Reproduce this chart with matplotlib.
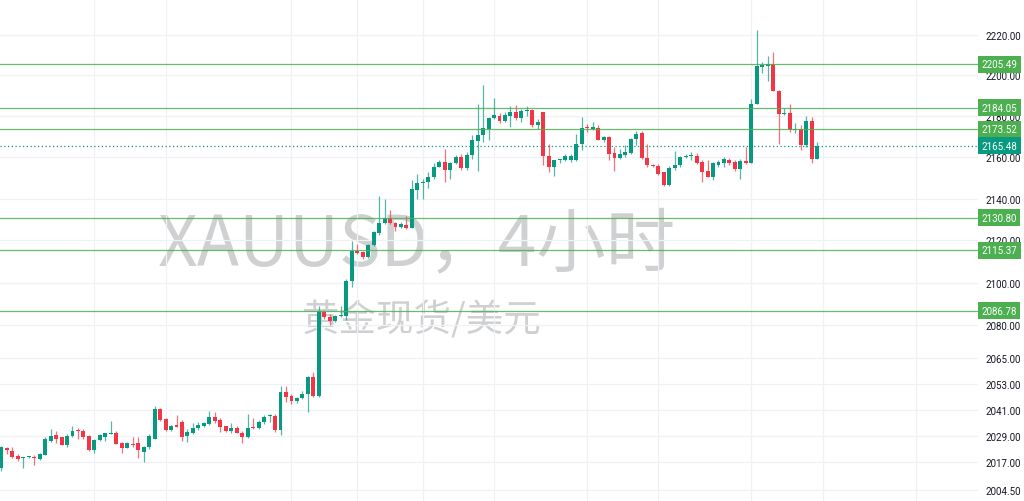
import numpy as np
import matplotlib
matplotlib.use("Agg")
import matplotlib.pyplot as plt
from matplotlib.ticker import FixedLocator, FixedFormatter, NullLocator

# 4h XAUUSD candles (oldest first)
opens = [2014.3, 2023.5, 2022.1, 2020.0, 2019.0, 2019.3, 2019.5, 2018.5, 2020.3, 2026.7,
         2029.3, 2028.3, 2025.0, 2028.9, 2031.6, 2031.3, 2029.0, 2022.6, 2027.0, 2028.3,
         2029.8, 2030.5, 2026.0, 2023.5, 2025.3, 2025.8, 2021.8, 2023.9, 2027.8, 2041.4,
         2036.8, 2031.7, 2033.8, 2035.4, 2028.8, 2030.2, 2032.4, 2033.5, 2034.5, 2037.5,
         2036.2, 2033.5, 2031.3, 2032.4, 2030.5, 2028.3, 2033.1, 2032.4, 2035.2, 2038.0,
         2038.0, 2031.5, 2049.0, 2047.4, 2044.8, 2046.2, 2048.0, 2055.8, 2047.4, 2086.4,
         2083.9, 2082.0, 2084.3, 2084.3, 2101.0, 2115.2, 2114.5, 2112.2, 2117.7, 2123.5,
         2128.3, 2130.7, 2128.3, 2126.3, 2127.3, 2125.7, 2144.2, 2147.4, 2147.9, 2150.5,
         2155.4, 2157.5, 2153.9, 2157.0, 2160.1, 2154.8, 2161.0, 2167.9, 2170.5, 2173.7,
         2178.9, 2180.2, 2177.6, 2180.2, 2181.8, 2178.9, 2182.3, 2183.0, 2175.7, 2181.8,
         2160.5, 2155.2, 2158.4, 2158.4, 2158.4, 2158.4, 2166.2, 2174.6, 2173.9, 2174.3,
         2168.1, 2169.6, 2162.0, 2159.6, 2161.0, 2162.2, 2168.9, 2171.7, 2159.6, 2156.4,
         2155.8, 2152.6, 2146.5, 2154.5, 2156.4, 2160.1, 2160.4, 2160.4, 2157.5, 2153.4,
         2150.6, 2156.4, 2157.0, 2158.6, 2157.5, 2154.2, 2158.0, 2157.3, 2186.1, 2204.1,
         2204.4, 2205.5, 2192.5, 2181.2, 2181.6, 2173.0, 2173.7, 2166.0, 2177.8, 2159.0]
highs = [2024.5, 2024.0, 2024.2, 2020.7, 2019.6, 2020.0, 2020.5, 2021.3, 2028.3, 2032.0,
         2031.3, 2028.3, 2029.8, 2033.5, 2032.5, 2032.3, 2029.3, 2027.5, 2029.8, 2030.5,
         2035.7, 2031.3, 2026.3, 2026.3, 2028.3, 2028.3, 2024.5, 2029.8, 2042.6, 2041.8,
         2037.2, 2033.9, 2038.5, 2036.2, 2032.3, 2035.0, 2035.4, 2035.4, 2040.2, 2040.0,
         2037.0, 2033.5, 2034.8, 2033.6, 2031.1, 2039.0, 2037.3, 2036.2, 2038.5, 2039.0,
         2039.0, 2051.7, 2051.7, 2048.3, 2046.7, 2049.4, 2056.3, 2058.5, 2088.8, 2087.1,
         2085.4, 2084.8, 2088.8, 2101.8, 2119.9, 2118.3, 2115.2, 2118.2, 2124.5, 2141.3,
         2139.6, 2134.6, 2128.6, 2128.6, 2131.5, 2149.0, 2151.8, 2149.5, 2153.0, 2157.0,
         2158.6, 2164.1, 2157.8, 2160.9, 2161.7, 2162.5, 2170.8, 2185.8, 2195.3, 2179.4,
         2188.7, 2181.7, 2181.9, 2185.0, 2185.3, 2183.5, 2184.7, 2183.5, 2178.5, 2182.2,
         2166.5, 2158.8, 2159.3, 2161.6, 2161.6, 2171.3, 2179.4, 2175.9, 2176.9, 2175.6,
         2170.2, 2170.2, 2165.0, 2163.7, 2165.8, 2169.3, 2172.7, 2172.7, 2166.5, 2156.6,
         2156.6, 2153.0, 2155.8, 2163.2, 2160.6, 2161.6, 2162.5, 2162.2, 2158.6, 2158.6,
         2157.8, 2158.6, 2160.2, 2159.6, 2158.8, 2159.3, 2165.0, 2188.2, 2222.6, 2206.4,
         2209.7, 2211.4, 2192.6, 2183.9, 2185.8, 2176.7, 2175.7, 2180.2, 2179.4, 2167.2]
lows = [2013.2, 2021.0, 2019.2, 2017.7, 2014.6, 2019.0, 2016.0, 2018.0, 2020.3, 2026.3,
        2026.0, 2024.8, 2024.2, 2028.3, 2027.5, 2027.8, 2022.2, 2021.4, 2026.8, 2026.8,
        2029.8, 2025.3, 2021.1, 2023.5, 2023.9, 2019.2, 2017.3, 2023.0, 2027.5, 2035.8,
        2031.4, 2031.3, 2033.2, 2026.7, 2026.4, 2029.7, 2031.6, 2033.2, 2034.2, 2034.7,
        2031.0, 2030.9, 2030.4, 2030.3, 2026.0, 2028.0, 2032.3, 2032.2, 2034.5, 2035.4,
        2031.0, 2029.5, 2044.5, 2043.7, 2044.0, 2045.7, 2040.0, 2047.0, 2047.0, 2083.1,
        2080.0, 2081.5, 2084.0, 2082.4, 2098.1, 2113.6, 2111.0, 2111.5, 2117.2, 2122.8,
        2128.0, 2128.0, 2124.5, 2125.8, 2125.2, 2125.7, 2139.6, 2139.6, 2144.9, 2149.4,
        2155.0, 2148.0, 2149.4, 2156.5, 2154.0, 2154.0, 2159.3, 2153.1, 2167.4, 2168.1,
        2178.5, 2176.8, 2176.9, 2174.8, 2178.1, 2176.9, 2180.2, 2174.4, 2173.6, 2156.1,
        2152.6, 2151.0, 2157.0, 2158.0, 2157.8, 2158.0, 2163.3, 2172.1, 2173.4, 2168.1,
        2167.4, 2158.5, 2153.3, 2159.3, 2160.1, 2161.4, 2165.8, 2159.0, 2155.4, 2155.4,
        2151.3, 2146.2, 2146.2, 2154.0, 2155.4, 2159.6, 2158.6, 2156.6, 2147.8, 2150.6,
        2148.9, 2155.4, 2155.4, 2156.2, 2153.4, 2149.4, 2156.6, 2157.0, 2186.0, 2201.2,
        2197.0, 2192.1, 2166.5, 2180.3, 2172.3, 2171.9, 2163.5, 2165.0, 2157.0, 2159.0]
closes = [2023.9, 2022.6, 2019.6, 2018.5, 2019.5, 2019.7, 2019.0, 2020.7, 2027.5, 2029.0,
          2027.8, 2025.0, 2029.0, 2031.3, 2031.2, 2028.3, 2022.6, 2027.2, 2029.3, 2030.2,
          2030.5, 2025.5, 2023.5, 2025.6, 2024.8, 2022.6, 2024.2, 2028.8, 2041.4, 2036.5,
          2031.7, 2033.5, 2033.2, 2028.6, 2030.9, 2032.4, 2034.2, 2035.0, 2037.5, 2035.7,
          2033.2, 2031.3, 2032.4, 2030.3, 2028.3, 2032.8, 2032.7, 2035.5, 2037.5, 2038.3,
          2031.5, 2049.0, 2046.8, 2044.8, 2046.3, 2048.0, 2055.8, 2047.4, 2086.6, 2083.7,
          2082.0, 2084.3, 2084.6, 2101.0, 2115.2, 2114.1, 2112.2, 2117.7, 2124.0, 2128.4,
          2130.7, 2128.3, 2126.3, 2127.6, 2125.7, 2144.6, 2147.4, 2148.2, 2150.6, 2155.4,
          2157.5, 2153.9, 2157.0, 2160.1, 2154.8, 2161.2, 2168.1, 2170.5, 2174.3, 2178.9,
          2180.5, 2177.6, 2180.5, 2181.8, 2178.9, 2182.5, 2183.0, 2175.7, 2177.3, 2160.5,
          2155.2, 2158.4, 2159.0, 2160.3, 2160.3, 2166.2, 2174.3, 2174.0, 2174.8, 2168.1,
          2169.6, 2161.7, 2159.6, 2161.7, 2162.7, 2168.9, 2171.3, 2159.6, 2156.4, 2155.8,
          2151.6, 2146.5, 2154.8, 2156.4, 2160.1, 2160.7, 2160.9, 2157.1, 2152.6, 2150.6,
          2157.0, 2157.8, 2158.9, 2157.0, 2154.2, 2158.0, 2157.3, 2186.0, 2204.4, 2204.9,
          2205.5, 2192.5, 2180.9, 2181.6, 2173.0, 2173.7, 2166.0, 2177.8, 2159.0, 2165.48]

levels = [2205.49, 2184.05, 2173.52, 2130.80, 2115.37, 2086.78]
last_price = 2165.48
price_ticks = [2004.50, 2017.00, 2029.00, 2041.00, 2053.00, 2065.00, 2080.00,
               2100.00, 2120.00, 2140.00, 2160.00, 2180.00, 2200.00, 2220.00]
time_grid = [17, 30, 53, 65, 77, 90, 107, 120, 137, 150, 167]

symbol_text = "XAUUSD，4小时"
name_text = "黄金现货/美元"

UP = "#089981"
DOWN = "#f23645"
LEVEL_GREEN = "#4caf50"
TICK_FONT = ["Roboto", "DejaVu Sans"]
TICK_SIZE = 7

o = np.array(opens)
h = np.array(highs)
l = np.array(lows)
c = np.array(closes)
x = np.arange(len(o))
up = c >= o
colors = np.where(up, UP, DOWN)

fig = plt.figure(figsize=(10.24, 5.02), dpi=100)
ax = fig.add_axes([0, 0, 978 / 1024, 1])
ax.set_yscale("log")
ax.set_ylim(1999.6, 2238)
ax.set_xlim(-0.24, 178.4)

# watermark
ax.text(0.4264, 0.51, symbol_text, transform=ax.transAxes, ha="center", va="center",
        fontsize=50, color="#cfd0d2", family=["Noto Sans CJK SC"], zorder=0)
ax.text(0.4315, 0.36, name_text, transform=ax.transAxes, ha="center", va="center",
        fontsize=27, color="#cfd0d2", family=["Noto Sans CJK SC"], zorder=0)

# candles
ax.vlines(x, l, h, colors=colors, linewidth=0.9, alpha=0.7, zorder=2)
body_lo = np.minimum(o, c)
body_h = np.maximum(np.abs(c - o), 0.5)
ax.bar(x, body_h, bottom=body_lo, width=0.72, color=colors, linewidth=0, zorder=3)

# horizontal levels
for v in levels:
    ax.axhline(v, color=LEVEL_GREEN, linewidth=0.9, alpha=0.85, zorder=4)
    ax.annotate(f"{v:.2f}", xy=(1.0, v), xycoords=ax.get_yaxis_transform(),
                xytext=(2.5, 0), textcoords="offset points", ha="left", va="center",
                color="white", fontsize=TICK_SIZE, family=TICK_FONT, annotation_clip=False,
                bbox=dict(boxstyle="square,pad=0.35", fc=LEVEL_GREEN, ec="none"), zorder=6)

ax.axhline(last_price, color=UP, linewidth=0.9, linestyle=(0, (1, 2)), zorder=4)
ax.annotate(f"{last_price:.2f}", xy=(1.0, last_price), xycoords=ax.get_yaxis_transform(),
            xytext=(2.5, 0), textcoords="offset points", ha="left", va="center",
            color="white", fontsize=TICK_SIZE, family=TICK_FONT, annotation_clip=False,
            bbox=dict(boxstyle="square,pad=0.35", fc=UP, ec="none"), zorder=6)

# axes styling
ax.yaxis.set_major_locator(FixedLocator(price_ticks))
ax.yaxis.set_major_formatter(FixedFormatter([f"{t:.2f}" for t in price_ticks]))
ax.yaxis.set_minor_locator(NullLocator())
ax.yaxis.tick_right()
ax.tick_params(axis="y", length=0, pad=5.5, labelsize=TICK_SIZE, labelcolor="#131722")
for lab in ax.get_yticklabels():
    lab.set_family(TICK_FONT)
ax.text(1.0, 2240, "2240.00", transform=ax.get_yaxis_transform(), ha="left", va="center",
        fontsize=TICK_SIZE, color="#131722", family=TICK_FONT, clip_on=False)
ax.set_xticks(time_grid)
ax.set_xticklabels([])
ax.tick_params(axis="x", length=0)
ax.grid(True, color="#f0f1f4", linewidth=0.9, zorder=0)
ax.set_axisbelow(True)
for s in ax.spines.values():
    s.set_visible(False)

fig.savefig("out.png", dpi=100, facecolor="white")
